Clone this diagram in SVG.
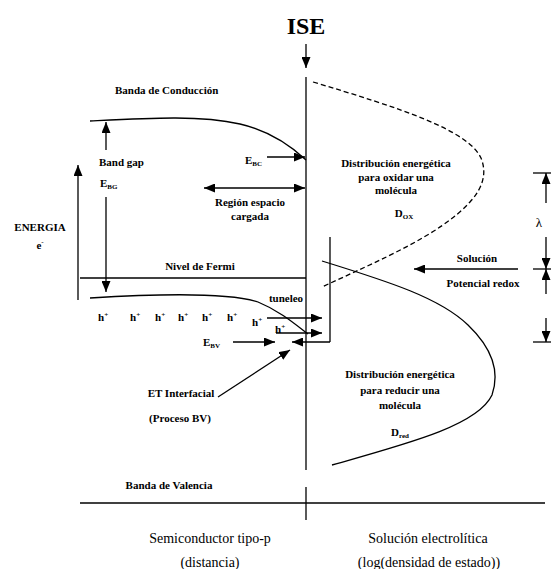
<svg xmlns="http://www.w3.org/2000/svg" width="551" height="569" viewBox="0 0 551 569">
<style>
text{font-family:"Liberation Serif","Times New Roman","Nimbus Roman","Noto Serif","DejaVu Serif",serif;fill:#000}
.b{font-weight:bold;font-size:11px}
.m{text-anchor:middle}
.big{font-size:14px}
.sub{font-size:7px}
.ln{stroke:#000;stroke-width:1.3;fill:none}
.ar{stroke:#000;stroke-width:1.3;fill:none;marker-end:url(#ah)}
</style>
<defs>
<marker id="ah" markerUnits="userSpaceOnUse" markerWidth="11" markerHeight="9" refX="11" refY="4.5" orient="auto-start-reverse">
<path d="M0,0 L11,4.5 L0,9 z" fill="#000"/>
</marker>
</defs>
<rect width="551" height="569" fill="#fff"/>
<g id="connectors">
<line class="ar" x1="306" y1="44" x2="306" y2="68"/>
<line class="ln" x1="306" y1="77" x2="306" y2="470"/>
<line class="ln" x1="306" y1="487" x2="306" y2="520"/>
<line class="ln" x1="80" y1="503" x2="545" y2="503"/>
<path class="ln" d="M90,121 C150,118 200,115 240,124 C270,131 290,145 306,160"/>
<path class="ln" d="M90,298 C170,293 230,293 258,302 C280,311 295,324 308,334"/>
<line class="ln" x1="80" y1="278" x2="306" y2="278"/>
<line class="ar" x1="78" y1="300" x2="78" y2="165"/>
<line class="ar" x1="106" y1="150" x2="106" y2="122"/>
<line class="ar" x1="106" y1="197" x2="106" y2="292"/>
<line class="ar" x1="267" y1="157" x2="305" y2="157"/>
<line class="ar" x1="204" y1="188" x2="305" y2="188" style="marker-start:url(#ah)"/>
<path class="ln" stroke-dasharray="5,3" d="M313,82 C400,108 468,130 481,158 Q490,180 470,202 C440,235 380,260 322,287"/>
<path class="ln" d="M322,261 C390,282 440,298 468,325 C492,348 500,372 492,395 C478,425 410,443 332,465"/>
<line class="ln" x1="330" y1="237" x2="330" y2="342"/>
<line class="ar" x1="330" y1="342" x2="292" y2="342"/>
<line class="ar" x1="267" y1="318" x2="322" y2="318"/>
<line class="ar" x1="276" y1="333" x2="322" y2="333"/>
<line class="ar" x1="233" y1="342" x2="275" y2="342"/>
<line class="ar" x1="218" y1="397" x2="290" y2="350"/>
<line class="ar" x1="518" y1="269" x2="414" y2="269"/>
<line class="ln" x1="533" y1="173" x2="551" y2="173"/>
<line class="ln" x1="533" y1="269" x2="551" y2="269"/>
<line class="ln" x1="533" y1="342" x2="551" y2="342"/>
<line class="ar" x1="546" y1="203" x2="546" y2="173"/>
<line class="ar" x1="546" y1="237" x2="546" y2="269"/>
<line class="ar" x1="546" y1="294" x2="546" y2="269"/>
<line class="ar" x1="546" y1="318" x2="546" y2="342"/>
</g>
<g id="ise"><text x="306" y="34" class="m" font-size="24" font-weight="bold">ISE</text></g>
<g id="banda-conduccion"><text x="115" y="94" class="b">Banda de Conducción</text></g>
<g id="band-gap"><text x="99" y="166" class="b">Band gap</text>
<text x="100" y="187" class="b">E<tspan class="sub" dy="2">BG</tspan></text></g>
<g id="ebc"><text x="245" y="164" class="b">E<tspan class="sub" dy="2">BC</tspan></text></g>
<g id="region"><text x="250" y="206" class="b m">Región espacio</text>
<text x="250" y="220" class="b m">cargada</text></g>
<g id="energia"><text x="40" y="231" class="b m">ENERGIA</text>
<text x="40" y="249" class="b m">e<tspan class="sub" dy="-5">-</tspan></text></g>
<g id="fermi"><text x="200" y="270" class="b m">Nivel de Fermi</text></g>
<g id="tuneleo"><text x="286" y="302" class="b m">tuneleo</text></g>
<g id="huecos">
<text x="98" y="321" class="b">h<tspan class="sub" dy="-4">+</tspan></text>
<text x="130" y="321" class="b">h<tspan class="sub" dy="-4">+</tspan></text>
<text x="155" y="321" class="b">h<tspan class="sub" dy="-4">+</tspan></text>
<text x="178" y="321" class="b">h<tspan class="sub" dy="-4">+</tspan></text>
<text x="202" y="321" class="b">h<tspan class="sub" dy="-4">+</tspan></text>
<text x="227" y="321" class="b">h<tspan class="sub" dy="-4">+</tspan></text>
<text x="252" y="326" class="b">h<tspan class="sub" dy="-4">+</tspan></text>
<text x="275" y="333" class="b">h<tspan class="sub" dy="-4">+</tspan></text>
</g>
<g id="ebv"><text x="203" y="346" class="b">E<tspan class="sub" dy="2">BV</tspan></text></g>
<g id="dox"><text x="396" y="167" class="b m">Distribución energética</text>
<text x="396" y="181" class="b m">para oxidar una</text>
<text x="396" y="194" class="b m">molécula</text>
<text x="404" y="217" class="b m">D<tspan class="sub" dy="2">OX</tspan></text></g>
<g id="dred"><text x="400" y="378" class="b m">Distribución energética</text>
<text x="400" y="394" class="b m">para reducir una</text>
<text x="400" y="409" class="b m">molécula</text>
<text x="400" y="436" class="b m">D<tspan class="sub" dy="2">red</tspan></text></g>
<g id="lambda"><text x="539" y="227" font-size="13" class="m">λ</text></g>
<g id="solucion"><text x="477" y="262" class="b m">Solución</text>
<text x="483" y="287" class="b m">Potencial redox</text></g>
<g id="et"><text x="181" y="397" class="b m">ET Interfacial</text>
<text x="180" y="422" class="b m">(Proceso BV)</text></g>
<g id="banda-valencia"><text x="169" y="489" class="b m">Banda de Valencia</text></g>
<g id="semi"><text x="210" y="543" class="big m">Semiconductor tipo-p</text>
<text x="210" y="567" class="big m">(distancia)</text></g>
<g id="sol"><text x="428" y="543" class="big m">Solución electrolítica</text>
<text x="429" y="567" class="big m">(log(densidad de estado))</text></g>
</svg>
